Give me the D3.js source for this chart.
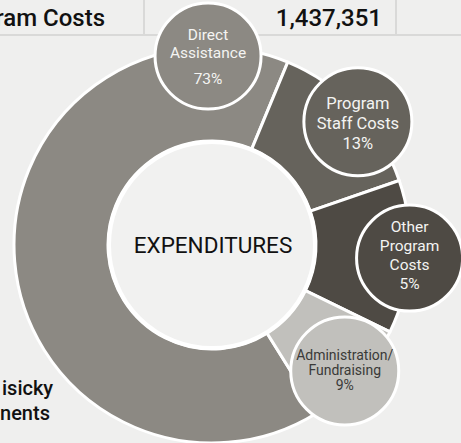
<!DOCTYPE html>
<html>
<head>
<meta charset="utf-8">
<script src="https://cdn.jsdelivr.net/npm/d3@7"></script>
<style>
  html, body { margin: 0; padding: 0; background: #efefee; }
  svg { display: block; font-family: Roboto, "Noto Sans", sans-serif; }
</style>
</head>
<body>
<div id="chart"></div>
<script>
// Slice names, printed shares and the part of the ring each slice takes in the picture
const categories = ["Direct Assistance", "Program Staff Costs", "Other Program Costs", "Administration/Fundraising"];
const shares = [73, 13, 5, 9];
const arcSpans = [234.5, 48.5, 45, 32]; // degrees of ring per slice
const labelLines = [
    ["Direct", "Assistance"],
    ["Program", "Staff Costs"],
    ["Other", "Program", "Costs"],
    ["Administration/", "Fundraising"]
];
const centerTitle = "EXPENDITURES";
const headerLabel = "Program Costs";
const headerValue = 1437351;
const footerLines = ["isicky", "nents"];

// Styling
const width = 461, height = 443;
const cx = 212, cy = 245;
const colors = ["#8c8983", "#66635c", "#4e4a44", "#c1c0bc"];
const textColors = ["#f4f4f2", "#f4f4f2", "#f4f4f2", "#3a3a38"];
// bubble placement: angle (deg, clockwise from top), distance from centre, radius
const bubbleAngle = [-1.2, 49.8, 93.8, 133.5];
const bubbleDist = [189, 191, 198, 183];
const bubbleR = [53, 54, 53, 54];
const bubbleFont = [15.5, 16.5, 15.5, 14];
const bubbleLine = [18, 20, 19, 15];
const pctGap = [8, 0, 0, 0];
const bubbleShift = [0, 1, -3, -1];

const data = categories.map((c, i) => ({ name: c, share: shares[i], span: arcSpans[i], i: i }));

const svg = d3.select("#chart")
    .append("svg")
    .attr("width", width)
    .attr("height", height);

svg.append("rect")
    .attr("width", width)
    .attr("height", height)
    .attr("fill", "#efefee");

// Header row
const header = svg.append("g");
header.append("line")
    .attr("x1", 0).attr("x2", width)
    .attr("y1", 35).attr("y2", 35)
    .attr("stroke", "#d9d9d8").attr("stroke-width", 2);
[144, 396].forEach(x => {
    header.append("line")
        .attr("x1", x).attr("x2", x)
        .attr("y1", 0).attr("y2", 35)
        .attr("stroke", "#d9d9d8").attr("stroke-width", 2);
});
header.append("text")
    .attr("x", 105).attr("y", 26)
    .attr("text-anchor", "end")
    .attr("font-size", 24).attr("font-weight", 500)
    .attr("fill", "#111")
    .text(headerLabel);
header.append("text")
    .attr("x", 382).attr("y", 26)
    .attr("text-anchor", "end")
    .attr("font-size", 24).attr("font-weight", 500)
    .attr("fill", "#111")
    .text(d3.format(",")(headerValue));

// Footer text (cut at the left edge)
svg.append("g").selectAll("text")
    .data(footerLines)
    .enter()
    .append("text")
    .attr("x", (d, i) => i === 0 ? 2 : 0)
    .attr("y", (d, i) => 395 + i * 25)
    .attr("font-size", 20).attr("font-weight", 500)
    .attr("fill", "#111")
    .text(d => d);

// Donut ring
const start = 148 * Math.PI / 180;
const pie = d3.pie()
    .sort(null)
    .startAngle(start)
    .endAngle(start + 2 * Math.PI)
    .value(d => d.span);

const arc = d3.arc()
    .innerRadius(104)
    .outerRadius(198);

const g = svg.append("g")
    .attr("transform", `translate(${cx},${cy})`);

g.selectAll("path.slice")
    .data(pie(data))
    .enter()
    .append("path")
    .attr("class", "slice")
    .attr("d", arc)
    .attr("fill", d => colors[d.data.i])
    .attr("stroke", "#fff")
    .attr("stroke-width", 3)
    .attr("stroke-linejoin", "round");

// Centre circle
g.append("circle")
    .attr("r", 103)
    .attr("fill", "#f1f1f0")
    .attr("stroke", "#fff")
    .attr("stroke-width", 4);
g.append("text")
    .attr("y", 8)
    .attr("x", 1)
    .attr("text-anchor", "middle")
    .attr("font-size", 22.5)
    .attr("fill", "#111")
    .text(centerTitle);

// Label bubbles
const bubbles = g.selectAll("g.bubble")
    .data(data)
    .enter()
    .append("g")
    .attr("class", "bubble")
    .attr("transform", d => {
        const p = d3.pointRadial(bubbleAngle[d.i] * Math.PI / 180, bubbleDist[d.i]);
        return `translate(${p[0]},${p[1]})`;
    });

bubbles.append("circle")
    .attr("r", d => bubbleR[d.i])
    .attr("fill", d => colors[d.i])
    .attr("stroke", "#fff")
    .attr("stroke-width", 3);

bubbles.each(function (d) {
    const lines = labelLines[d.i].concat([d.share + "%"]);
    const fs = bubbleFont[d.i], lh = bubbleLine[d.i], gap = pctGap[d.i];
    const total = (lines.length - 1) * lh + gap;
    const y0 = -total / 2 + fs * 0.355 + bubbleShift[d.i];
    d3.select(this).selectAll("text")
        .data(lines)
        .enter()
        .append("text")
        .attr("text-anchor", "middle")
        .attr("y", (t, k) => y0 + k * lh + (k === lines.length - 1 ? gap : 0))
        .attr("font-size", fs)
        .attr("fill", textColors[d.i])
        .text(t => t);
});
</script>
</body>
</html>
